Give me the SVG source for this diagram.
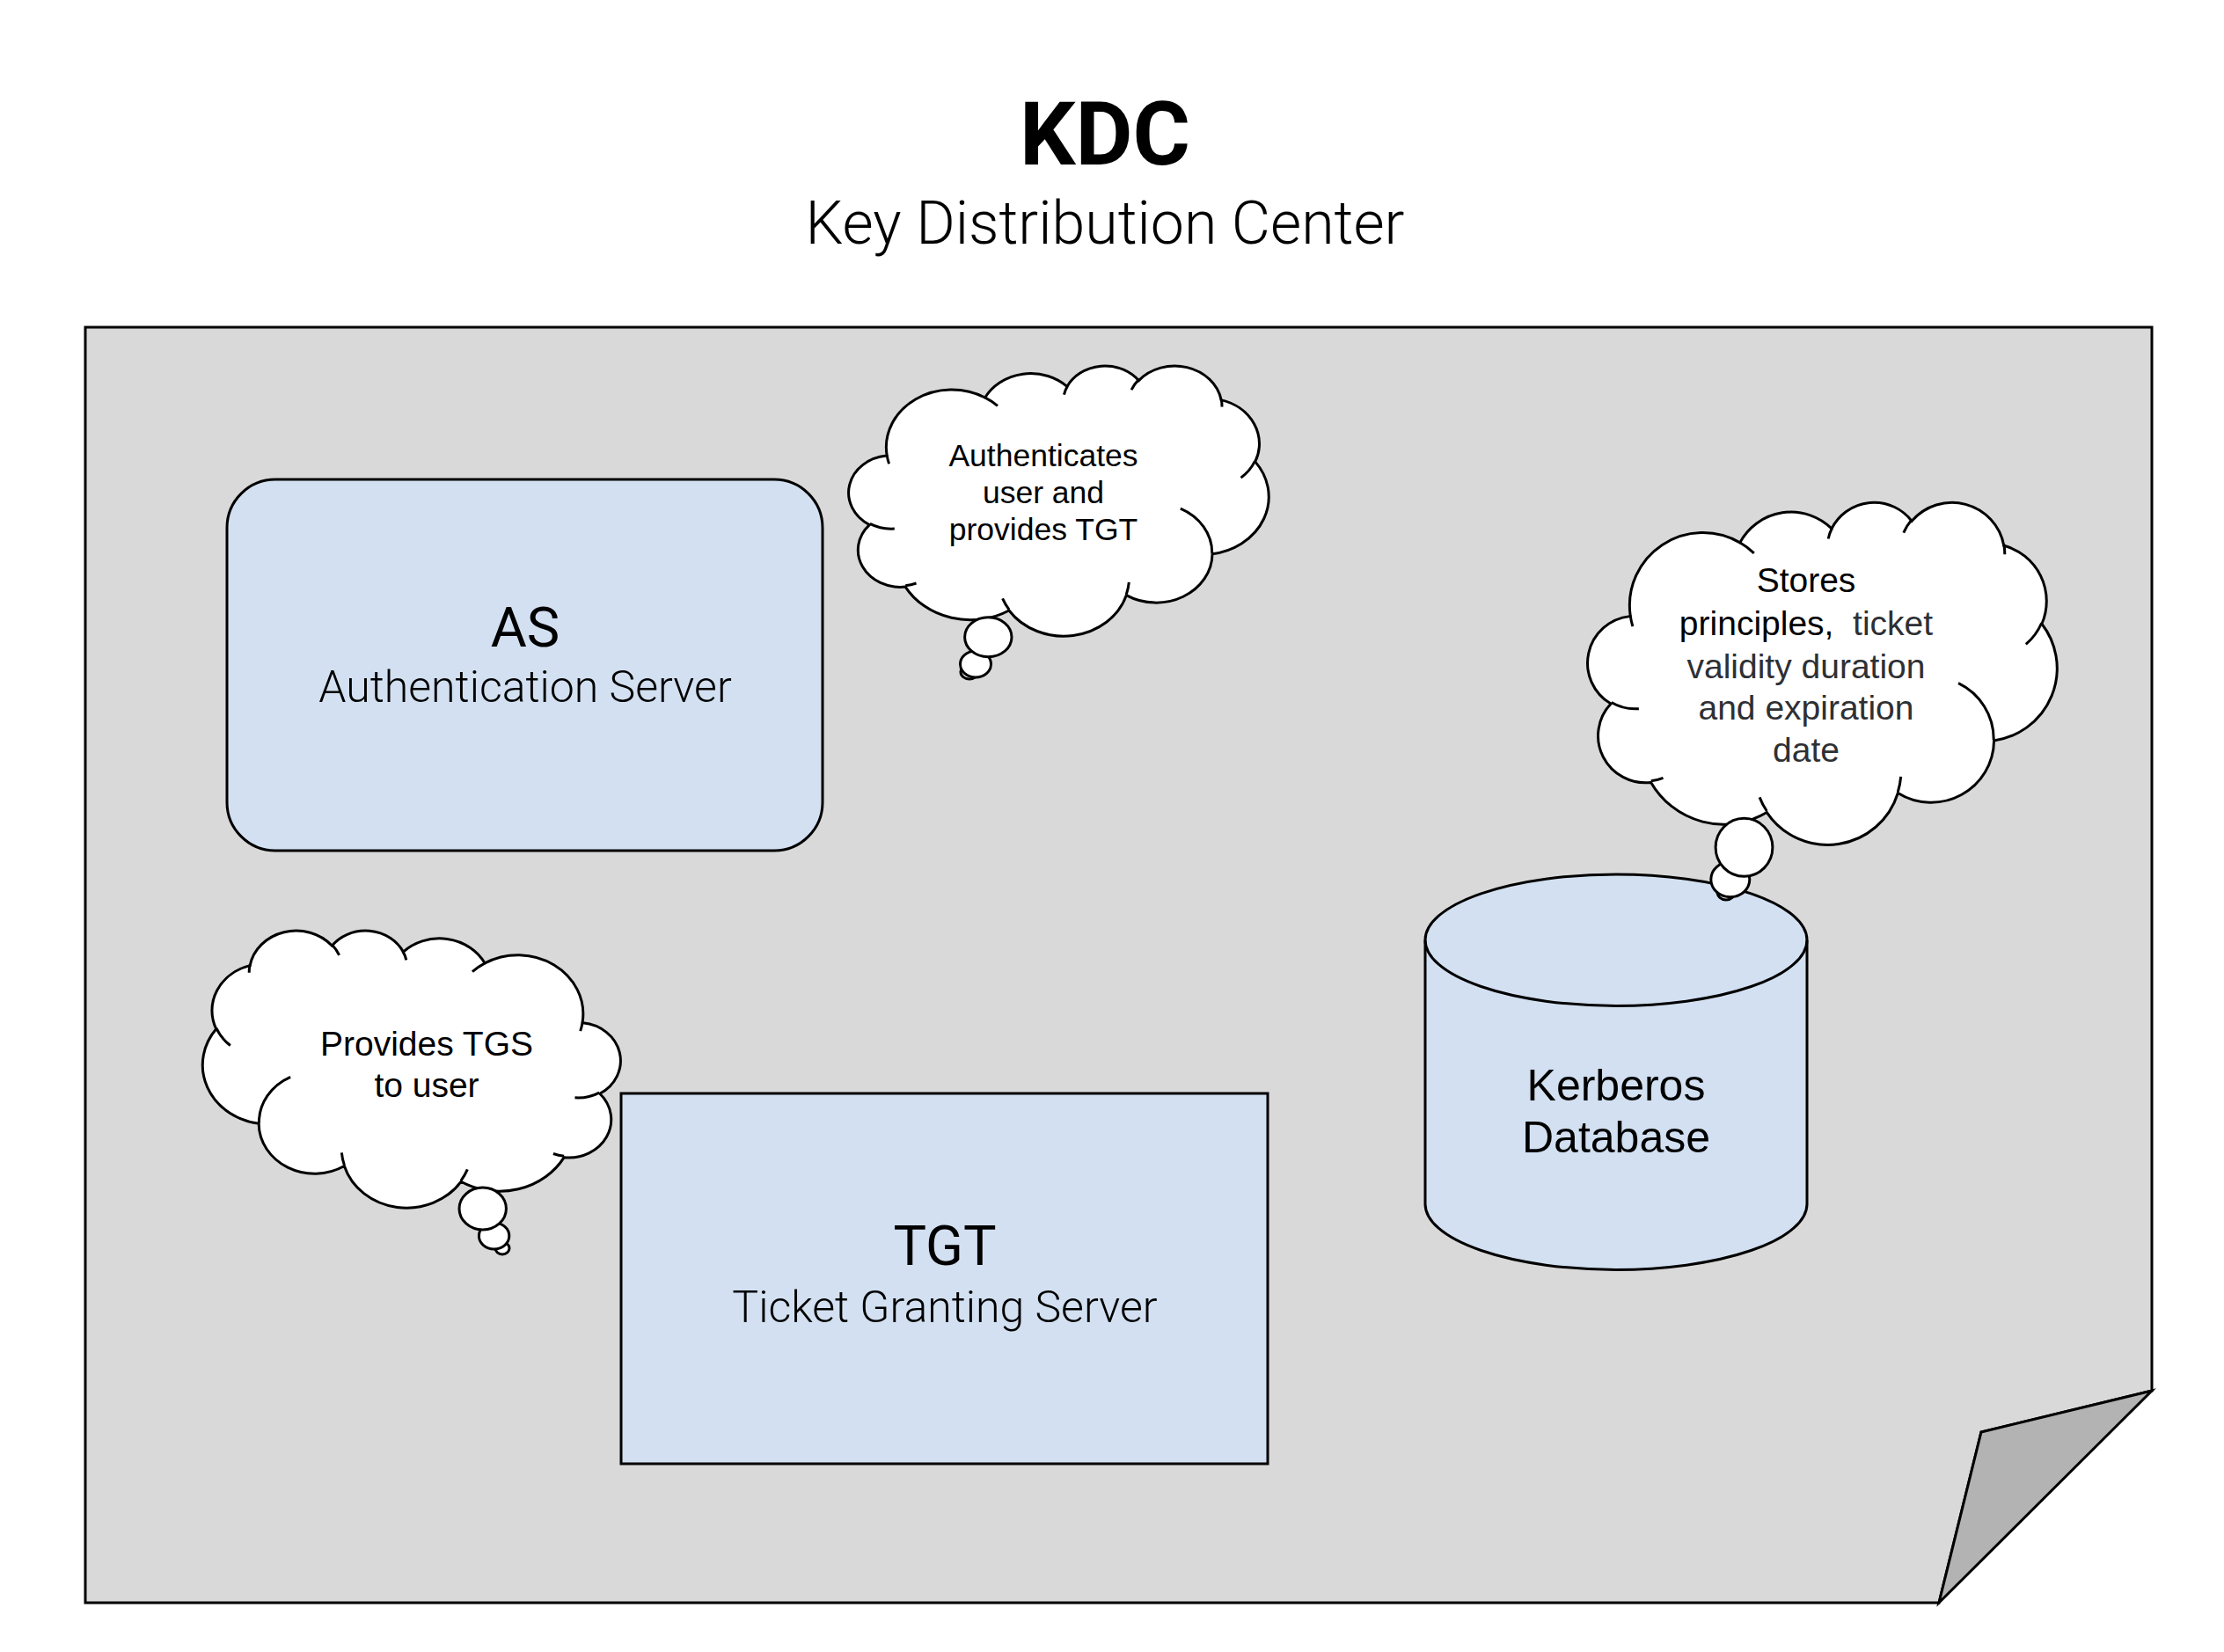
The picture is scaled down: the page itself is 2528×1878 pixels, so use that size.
<svg xmlns="http://www.w3.org/2000/svg" width="2528" height="1878" viewBox="0 0 2528 1878">
<style>
.ln{stroke:#000;stroke-width:3;stroke-linejoin:miter}
.box{fill:#d2e0f1;stroke:#000;stroke-width:3}
.cloud{fill:#fff;stroke:#000;stroke-width:3}
.bub{fill:#fff;stroke:#000;stroke-width:3}
.ttl{font-family:Roboto,"Liberation Sans",sans-serif;text-anchor:middle;fill:#000}
.sub{font-family:Roboto,"Liberation Sans",sans-serif;font-weight:300;text-anchor:middle;fill:#000}
.ct{font-family:"Liberation Sans",Arial,sans-serif;text-anchor:middle;fill:#000}
.gr{fill:#2e3034}
</style>
<defs>
<path id="cloudO" vector-effect="non-scaling-stroke" d="M90.3 332.6 A156.3 212.7 0 0 1 324.2 120.4 A123.4 168.2 0 0 1 519.8 79.5 A101.0 137.6 0 0 1 690.6 57.4 A112.4 152.7 0 0 1 887.0 129.1 A123.4 168.4 0 0 1 968.0 357.9 A156.8 213.4 0 0 1 865.9 699.2 A133.9 182.1 0 0 1 661.0 852.2 A156.3 213.3 0 0 1 381.5 908.9 A178.7 244.1 0 0 1 134.4 821.1 A100.9 137.0 0 0 1 48.9 591.4 A100.6 137.6 0 0 1 89.4 335.8 Z"/>
<path id="cloudI" vector-effect="non-scaling-stroke" fill="none" d="M108.6 605.9 A100.6 137.6 0 0 1 50.0 587.5 M160.4 807.9 A100.9 137.0 0 0 1 134.7 816.7 M381.4 904.9 A156.3 213.3 0 0 1 366.0 864.6 M667.3 804.4 A156.3 213.3 0 0 1 661.1 848.6 M790.0 531.3 A133.9 182.1 0 0 1 865.3 696.5 M967.5 355.4 A123.4 168.4 0 0 1 934.0 417.4 M887.1 125.6 A112.4 152.7 0 0 1 888.9 154.9 M673.1 91.5 A112.4 152.7 0 0 1 690.3 54.2 M512.5 109.3 A101.0 137.6 0 0 1 520.8 77.1 M324.1 120.2 A156.3 212.7 0 0 1 354.2 151.4 M95.5 365.5 A156.3 212.7 0 0 1 90.3 332.6"/>
</defs>
<rect x="0" y="0" width="2528" height="1878" fill="#fff"/>
<g id="title">
<text class="ttl" x="1256" y="187" font-size="100" font-weight="700">KDC</text>
<text class="sub" x="1256" y="277" font-size="68">Key Distribution Center</text>
</g>
<g id="kdc-page">
<polygon class="ln" points="97,372 2446,372 2446,1581 2252,1628 2204,1822 97,1822" fill="#d9d9d9"/>
<polygon class="ln" points="2446,1581 2252,1628 2204,1822" fill="#b3b3b3"/>
</g>
<g id="connectors"/>
<g id="as-node">
<rect class="box" x="258" y="545" width="677" height="422" rx="55" ry="55"/>
<text class="ttl" x="597" y="735" font-size="63">AS</text>
<text class="sub" x="597" y="798" font-size="50">Authentication Server</text>
</g>
<g id="tgt-node">
<rect class="box" x="706" y="1243" width="735" height="421"/>
<text class="ttl" x="1074" y="1438" font-size="63">TGT</text>
<text class="sub" x="1074" y="1503" font-size="50">Ticket Granting Server</text>
</g>
<g id="db-node">
<path class="box" d="M1620 1068.7 V1368.7 A217 74.7 0 0 0 2054 1368.7 V1068.7 A217 74.7 0 0 0 1620 1068.7 Z"/>
<path d="M1620 1068.7 A217 74.7 0 0 0 2054 1068.7" fill="none" stroke="#000" stroke-width="3"/>
<text class="ct" x="1837" y="1251" font-size="50">Kerberos</text>
<text class="ct" x="1837" y="1310" font-size="50">Database</text>
</g>
<g id="cloud-as">
<use href="#cloudO" class="cloud" transform="translate(965,415) scale(0.477,0.307)"/>
<use href="#cloudI" class="cloud" transform="translate(965,415) scale(0.477,0.307)"/>
<ellipse class="bub" cx="1102" cy="764" rx="10" ry="8"/>
<ellipse class="bub" cx="1109" cy="755" rx="17.5" ry="15"/>
<ellipse class="bub" cx="1123.3" cy="724.2" rx="26.7" ry="22.5"/>
<text class="ct" x="1186" y="530" font-size="35.5">Authenticates</text>
<text class="ct" x="1186" y="572" font-size="35.5">user and</text>
<text class="ct" x="1186" y="614" font-size="35.5">provides TGT</text>
</g>
<g id="cloud-db">
<use href="#cloudO" class="cloud" transform="translate(1805,570) scale(0.533,0.389)"/>
<use href="#cloudI" class="cloud" transform="translate(1805,570) scale(0.533,0.389)"/>
<ellipse class="bub" cx="1962" cy="1014" rx="10" ry="9"/>
<ellipse class="bub" cx="1966.8" cy="999.7" rx="22" ry="20"/>
<ellipse class="bub" cx="1982.5" cy="963.3" rx="32.4" ry="33"/>
<text class="ct" x="2053" y="673" font-size="39">Stores</text>
<text class="ct" x="2053" y="722" font-size="39" xml:space="preserve"><tspan>principles,</tspan><tspan class="gr">  ticket</tspan></text>
<text class="ct gr" x="2053" y="771" font-size="39">validity duration</text>
<text class="ct gr" x="2053" y="818" font-size="39">and expiration</text>
<text class="ct gr" x="2053" y="866" font-size="39">date</text>
</g>
<g id="cloud-tgs">
<use href="#cloudO" class="cloud" transform="translate(705,1057) scale(-0.4745,0.315)"/>
<use href="#cloudI" class="cloud" transform="translate(705,1057) scale(-0.4745,0.315)"/>
<ellipse class="bub" cx="571" cy="1419" rx="8" ry="7"/>
<ellipse class="bub" cx="561.6" cy="1405" rx="17.2" ry="15"/>
<ellipse class="bub" cx="548.7" cy="1374" rx="26.7" ry="24"/>
<text class="ct" x="485" y="1200" font-size="39">Provides TGS</text>
<text class="ct" x="485" y="1247" font-size="39">to user</text>
</g>
</svg>
